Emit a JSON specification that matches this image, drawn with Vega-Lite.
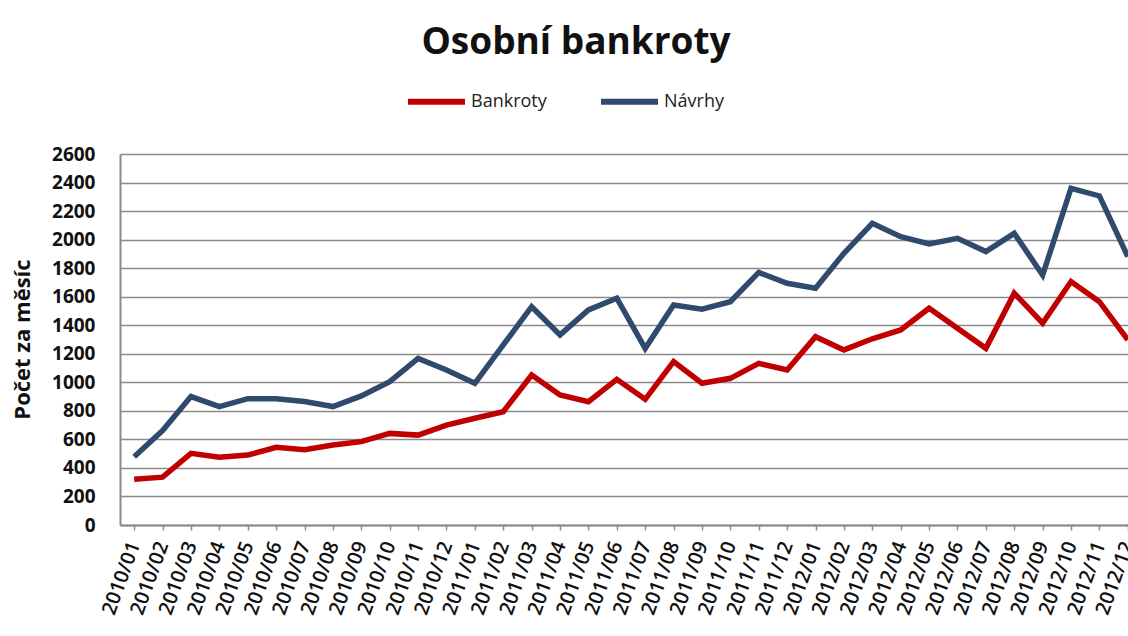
{
  "$schema": "https://vega.github.io/schema/vega-lite/v6.json",
  "width": 1022,
  "height": 371,
  "autosize": {"type": "none"},
  "padding": {"left": 120, "top": 154, "right": 0, "bottom": 111},
  "background": "white",
  "title": {
    "text": "Osobní bankroty",
    "font": "Open Sans",
    "fontSize": 37,
    "fontWeight": "bold",
    "color": "#111111",
    "anchor": "middle",
    "frame": "group",
    "dx": -55,
    "offset": 8
  },
  "datasets": {
    "rows": [
      {"month": "2010/01", "Bankroty": 320, "Návrhy": 478},
      {"month": "2010/02", "Bankroty": 335, "Návrhy": 662},
      {"month": "2010/03", "Bankroty": 502, "Návrhy": 900},
      {"month": "2010/04", "Bankroty": 475, "Návrhy": 830},
      {"month": "2010/05", "Bankroty": 490, "Návrhy": 885},
      {"month": "2010/06", "Bankroty": 544, "Návrhy": 885},
      {"month": "2010/07", "Bankroty": 528, "Návrhy": 865},
      {"month": "2010/08", "Bankroty": 560, "Návrhy": 830},
      {"month": "2010/09", "Bankroty": 584, "Návrhy": 905},
      {"month": "2010/10", "Bankroty": 642, "Návrhy": 1005},
      {"month": "2010/11", "Bankroty": 630, "Návrhy": 1168},
      {"month": "2010/12", "Bankroty": 700, "Návrhy": 1086},
      {"month": "2011/01", "Bankroty": 748, "Návrhy": 993},
      {"month": "2011/02", "Bankroty": 794, "Návrhy": 1262},
      {"month": "2011/03", "Bankroty": 1051, "Návrhy": 1530},
      {"month": "2011/04", "Bankroty": 911, "Návrhy": 1332},
      {"month": "2011/05", "Bankroty": 864, "Návrhy": 1507},
      {"month": "2011/06", "Bankroty": 1021, "Návrhy": 1589},
      {"month": "2011/07", "Bankroty": 881, "Návrhy": 1238},
      {"month": "2011/08", "Bankroty": 1145, "Návrhy": 1542},
      {"month": "2011/09", "Bankroty": 993, "Návrhy": 1512},
      {"month": "2011/10", "Bankroty": 1028, "Návrhy": 1565},
      {"month": "2011/11", "Bankroty": 1133, "Návrhy": 1770},
      {"month": "2011/12", "Bankroty": 1086, "Návrhy": 1694},
      {"month": "2012/01", "Bankroty": 1320, "Návrhy": 1659},
      {"month": "2012/02", "Bankroty": 1227, "Návrhy": 1904},
      {"month": "2012/03", "Bankroty": 1305, "Návrhy": 2114},
      {"month": "2012/04", "Bankroty": 1367, "Návrhy": 2021},
      {"month": "2012/05", "Bankroty": 1519, "Návrhy": 1970},
      {"month": "2012/06", "Bankroty": 1379, "Návrhy": 2009},
      {"month": "2012/07", "Bankroty": 1238, "Návrhy": 1916},
      {"month": "2012/08", "Bankroty": 1624, "Návrhy": 2044},
      {"month": "2012/09", "Bankroty": 1414, "Návrhy": 1752},
      {"month": "2012/10", "Bankroty": 1706, "Návrhy": 2360},
      {"month": "2012/11", "Bankroty": 1565, "Návrhy": 2306},
      {"month": "2012/12", "Bankroty": 1297, "Návrhy": 1881}
    ]
  },
  "data": {"name": "rows"},
  "transform": [
    {"fold": ["Bankroty", "Návrhy"], "as": ["series", "value"]}
  ],
  "mark": {"type": "line", "strokeWidth": 5.5, "strokeJoin": "miter", "strokeCap": "butt"},
  "encoding": {
    "x": {
      "field": "month",
      "type": "ordinal",
      "sort": null,
      "scale": {"type": "point", "padding": 0.5},
      "axis": {
        "title": null,
        "labelAngle": -70,
        "labelAlign": "right",
        "labelBaseline": "middle",
        "labelFont": "Open Sans",
        "labelFontSize": 20,
        "labelFontWeight": 600,
        "labelColor": "#111111",
        "labelPadding": 12,
        "labelOverlap": false,
        "grid": false,
        "domainColor": "#8a8a8a",
        "domainWidth": 2,
        "tickColor": "#8a8a8a",
        "tickSize": 5,
        "tickWidth": 1.5
      }
    },
    "y": {
      "field": "value",
      "type": "quantitative",
      "scale": {"domain": [0, 2600], "nice": false},
      "axis": {
        "title": "Počet za měsíc",
        "titleFont": "Open Sans",
        "titleFontSize": 22,
        "titleFontWeight": "bold",
        "titleColor": "#111111",
        "titleX": -98,
        "titleY": 185,
        "titleBaseline": "middle",
        "titleAlign": "center",
        "values": [0, 200, 400, 600, 800, 1000, 1200, 1400, 1600, 1800, 2000, 2200, 2400, 2600],
        "format": "d",
        "labelFont": "Open Sans",
        "labelFontSize": 19,
        "labelFontWeight": "bold",
        "labelColor": "#111111",
        "labelPadding": 25,
        "ticks": false,
        "grid": true,
        "gridColor": "#8a8a8a",
        "gridWidth": 1.5,
        "domainColor": "#8a8a8a",
        "domainWidth": 2
      }
    },
    "color": {
      "field": "series",
      "type": "nominal",
      "scale": {"domain": ["Bankroty", "Návrhy"], "range": ["#C00000", "#2F4A6C"]},
      "legend": {
        "title": null,
        "orient": "none",
        "legendX": 285,
        "legendY": -84,
        "direction": "horizontal",
        "columns": 2,
        "symbolType": "stroke",
        "symbolSize": 3249,
        "symbolStrokeWidth": 6,
        "labelFont": "Open Sans",
        "labelFontSize": 18,
        "labelColor": "#222222",
        "labelOffset": 3,
        "columnPadding": 42
      }
    }
  },
  "config": {"view": {"stroke": null}}
}
